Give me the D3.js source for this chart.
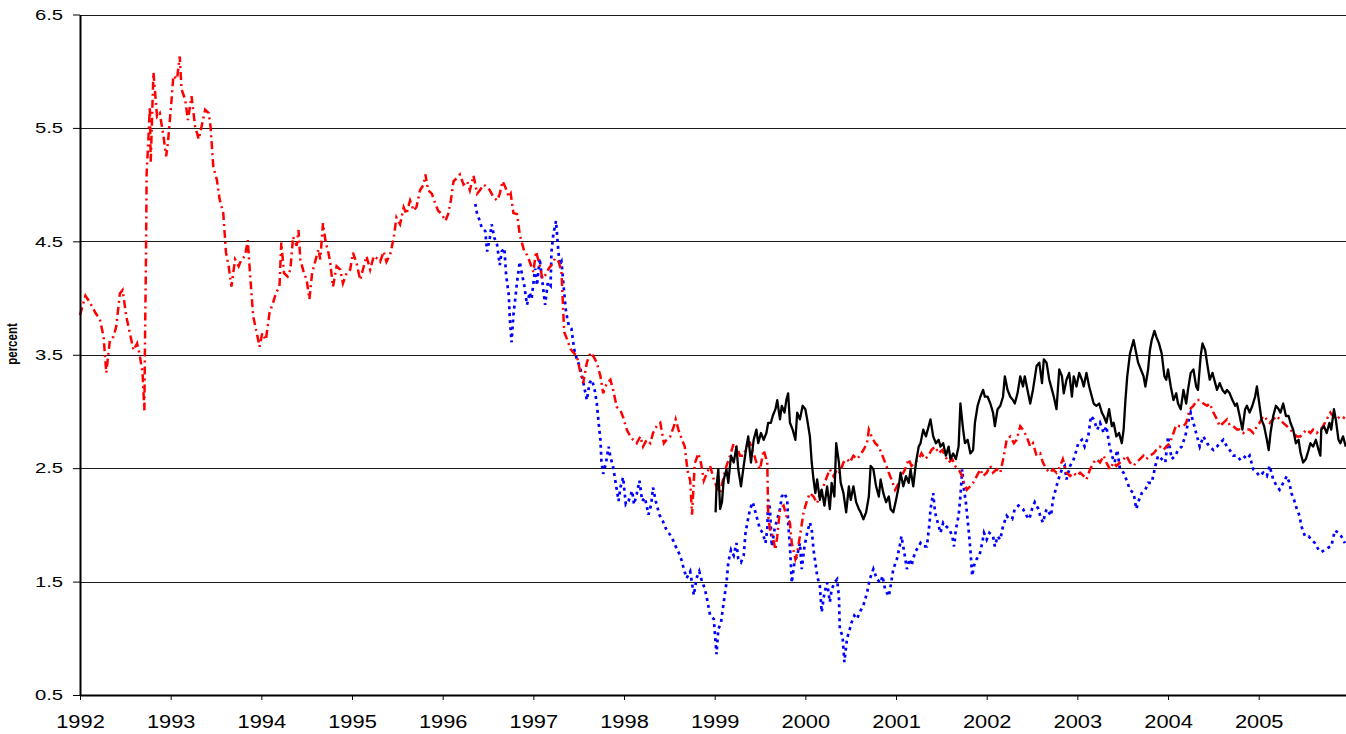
<!DOCTYPE html>
<html>
<head>
<meta charset="utf-8">
<script src="https://cdn.jsdelivr.net/npm/d3@7"></script>
<style>
  html, body { margin: 0; padding: 0; background: #fff; }
  svg { display: block; }
  text { font-family: "Liberation Sans", Arial, sans-serif; }
</style>
</head>
<body>
<div class="container"></div>
<script>
// [decimal year, percent]
const redSeries = [
  [1992.00,3.85],[1992.06,4.02],[1992.11,3.96],[1992.17,3.87],[1992.22,3.81],[1992.26,3.66],[1992.29,3.34],
  [1992.33,3.63],[1992.37,3.66],[1992.40,3.75],[1992.44,4.04],[1992.47,4.07],[1992.51,3.84],[1992.55,3.69],
  [1992.59,3.54],[1992.63,3.60],[1992.66,3.49],[1992.69,3.34],[1992.71,3.01],[1992.717,3.63],[1992.728,4.37],
  [1992.735,5.10],[1992.754,5.40],[1992.77,5.69],[1992.78,5.20],[1992.81,5.99],[1992.85,5.60],[1992.88,5.63],
  [1992.92,5.43],[1992.95,5.25],[1992.97,5.37],[1993.01,5.75],[1993.03,5.96],[1993.07,5.93],[1993.10,6.13],
  [1993.12,5.84],[1993.16,5.75],[1993.19,5.57],[1993.23,5.78],[1993.27,5.51],[1993.31,5.40],[1993.34,5.51],
  [1993.38,5.66],[1993.42,5.63],[1993.44,5.51],[1993.47,5.16],[1993.51,5.04],[1993.54,4.87],[1993.58,4.75],
  [1993.61,4.40],[1993.64,4.28],[1993.67,4.10],[1993.71,4.34],[1993.75,4.28],[1993.78,4.34],[1993.82,4.37],
  [1993.85,4.51],[1993.88,4.16],[1993.91,3.84],[1993.95,3.69],[1993.98,3.57],[1994.01,3.69],[1994.05,3.63],
  [1994.09,3.87],[1994.13,3.96],[1994.16,4.04],[1994.20,4.10],[1994.22,4.49],[1994.25,4.22],[1994.29,4.19],
  [1994.32,4.25],[1994.35,4.54],[1994.39,4.46],[1994.41,4.60],[1994.43,4.34],[1994.47,4.22],[1994.50,4.16],
  [1994.53,3.99],[1994.56,4.22],[1994.59,4.31],[1994.63,4.43],[1994.65,4.34],[1994.68,4.66],[1994.71,4.49],
  [1994.74,4.40],[1994.76,4.31],[1994.79,4.10],[1994.83,4.28],[1994.87,4.25],[1994.90,4.13],[1994.94,4.22],
  [1994.98,4.25],[1995.01,4.40],[1995.05,4.31],[1995.09,4.16],[1995.13,4.28],[1995.16,4.37],[1995.20,4.25],
  [1995.24,4.37],[1995.29,4.34],[1995.31,4.32],[1995.35,4.41],[1995.38,4.32],[1995.42,4.38],[1995.46,4.53],
  [1995.49,4.71],[1995.53,4.65],[1995.57,4.80],[1995.60,4.74],[1995.64,4.86],[1995.68,4.77],[1995.71,4.80],
  [1995.75,4.95],[1995.79,5.00],[1995.81,5.09],[1995.84,4.95],[1995.88,4.92],[1995.92,4.83],[1995.95,4.77],
  [1995.99,4.74],[1996.03,4.68],[1996.06,4.74],[1996.09,4.86],[1996.12,5.03],[1996.16,5.06],[1996.19,5.09],
  [1996.23,5.00],[1996.27,5.03],[1996.30,4.95],[1996.34,5.08],[1996.38,4.92],[1996.41,4.95],[1996.45,5.00],
  [1996.49,4.98],[1996.52,4.95],[1996.56,4.89],[1996.60,4.86],[1996.63,4.92],[1996.66,5.03],[1996.69,4.98],
  [1996.73,4.89],[1996.75,4.92],[1996.78,4.75],[1996.82,4.74],[1996.85,4.56],[1996.87,4.50],[1996.90,4.41],
  [1996.93,4.38],[1996.96,4.32],[1997.00,4.23],[1997.03,4.41],[1997.07,4.29],[1997.10,4.17],[1997.13,4.20],
  [1997.17,4.26],[1997.20,4.29],[1997.24,4.35],[1997.28,4.32],[1997.31,4.23],[1997.34,3.70],[1997.37,3.64],
  [1997.41,3.55],[1997.44,3.52],[1997.48,3.49],[1997.52,3.34],[1997.55,3.25],[1997.59,3.43],[1997.63,3.52],
  [1997.66,3.49],[1997.70,3.43],[1997.74,3.31],[1997.77,3.16],[1997.81,3.25],[1997.85,3.28],[1997.88,3.19],
  [1997.92,3.04],[1997.96,3.01],[1997.99,2.95],[1998.03,2.84],[1998.07,2.78],[1998.10,2.75],[1998.14,2.72],
  [1998.18,2.78],[1998.21,2.69],[1998.25,2.75],[1998.29,2.72],[1998.32,2.81],[1998.36,2.87],[1998.40,2.90],
  [1998.44,2.72],[1998.47,2.75],[1998.51,2.78],[1998.55,2.87],[1998.57,2.93],[1998.60,2.84],[1998.64,2.75],
  [1998.67,2.69],[1998.70,2.48],[1998.73,2.39],[1998.75,2.09],[1998.78,2.54],[1998.82,2.63],[1998.85,2.54],
  [1998.88,2.39],[1998.91,2.45],[1998.95,2.52],[1998.99,2.40],[1999.02,2.34],[1999.06,2.28],[1999.10,2.43],
  [1999.13,2.52],[1999.17,2.61],[1999.21,2.72],[1999.24,2.69],[1999.28,2.61],[1999.32,2.61],[1999.35,2.69],
  [1999.39,2.72],[1999.43,2.63],[1999.46,2.55],[1999.50,2.49],[1999.54,2.66],[1999.58,2.55],[1999.59,2.08],
  [1999.61,1.96],[1999.64,1.90],[1999.67,1.78],[1999.69,1.90],[1999.72,2.14],[1999.76,2.17],[1999.79,2.08],
  [1999.83,2.02],[1999.85,1.84],[1999.89,1.70],[1999.91,1.75],[1999.94,1.90],[1999.98,2.11],[2000.02,2.22],
  [2000.05,2.28],[2000.09,2.25],[2000.13,2.19],[2000.16,2.28],[2000.20,2.34],[2000.24,2.43],[2000.27,2.49],
  [2000.31,2.43],[2000.35,2.49],[2000.38,2.46],[2000.42,2.55],[2000.46,2.58],[2000.49,2.55],[2000.53,2.61],
  [2000.57,2.58],[2000.60,2.61],[2000.64,2.66],[2000.68,2.72],[2000.70,2.84],[2000.73,2.78],[2000.77,2.72],
  [2000.81,2.69],[2000.84,2.63],[2000.88,2.55],[2000.92,2.46],[2000.95,2.40],[2000.99,2.31],[2001.03,2.37],
  [2001.06,2.43],[2001.10,2.49],[2001.14,2.58],[2001.17,2.52],[2001.21,2.55],[2001.25,2.58],[2001.28,2.63],
  [2001.32,2.58],[2001.36,2.61],[2001.39,2.66],[2001.43,2.69],[2001.47,2.63],[2001.51,2.66],[2001.54,2.61],
  [2001.58,2.55],[2001.62,2.58],[2001.65,2.52],[2001.69,2.49],[2001.73,2.43],[2001.75,2.37],[2001.78,2.31],
  [2001.82,2.34],[2001.85,2.37],[2001.89,2.43],[2001.93,2.49],[2001.96,2.43],[2002.00,2.46],[2002.04,2.52],
  [2002.07,2.46],[2002.11,2.49],[2002.15,2.46],[2002.19,2.61],[2002.22,2.75],[2002.26,2.78],[2002.30,2.72],
  [2002.33,2.75],[2002.37,2.87],[2002.40,2.84],[2002.44,2.78],[2002.48,2.69],[2002.51,2.72],[2002.55,2.61],
  [2002.59,2.63],[2002.62,2.55],[2002.66,2.49],[2002.70,2.46],[2002.73,2.49],[2002.77,2.46],[2002.81,2.52],
  [2002.84,2.58],[2002.88,2.46],[2002.92,2.43],[2002.96,2.46],[2002.99,2.43],[2003.03,2.46],[2003.07,2.43],
  [2003.10,2.40],[2003.14,2.49],[2003.18,2.55],[2003.21,2.58],[2003.25,2.55],[2003.29,2.61],[2003.32,2.55],
  [2003.36,2.49],[2003.40,2.55],[2003.43,2.52],[2003.47,2.55],[2003.51,2.58],[2003.54,2.61],[2003.58,2.55],
  [2003.62,2.52],[2003.65,2.55],[2003.69,2.58],[2003.73,2.61],[2003.76,2.58],[2003.80,2.61],[2003.84,2.63],
  [2003.87,2.66],[2003.91,2.69],[2003.95,2.66],[2003.98,2.69],[2004.02,2.72],[2004.06,2.81],[2004.09,2.88],
  [2004.13,2.87],[2004.17,2.87],[2004.20,2.90],[2004.24,3.02],[2004.28,3.05],[2004.32,3.10],[2004.35,3.10],
  [2004.39,3.07],[2004.43,3.05],[2004.46,3.07],[2004.50,2.99],[2004.54,2.93],[2004.57,2.87],[2004.61,2.90],
  [2004.65,2.93],[2004.68,2.88],[2004.72,2.87],[2004.76,2.84],[2004.79,2.84],[2004.83,2.81],[2004.87,2.84],
  [2004.90,2.84],[2004.94,2.81],[2004.98,2.87],[2005.01,2.90],[2005.05,2.96],[2005.09,2.93],[2005.12,2.90],
  [2005.16,2.93],[2005.20,2.96],[2005.23,2.93],[2005.27,2.90],[2005.31,2.87],[2005.35,2.84],[2005.38,2.81],
  [2005.42,2.78],[2005.46,2.78],[2005.49,2.81],[2005.53,2.84],[2005.57,2.81],[2005.60,2.84],[2005.64,2.81],
  [2005.68,2.84],[2005.71,2.87],[2005.75,2.93],[2005.79,2.99],[2005.82,2.96],[2005.86,2.93],[2005.90,2.96],
  [2005.95,2.94]
];

const blueSeries = [
  [1996.36,4.83],[1996.38,4.74],[1996.41,4.68],[1996.43,4.62],[1996.47,4.59],[1996.49,4.41],[1996.52,4.53],
  [1996.54,4.65],[1996.57,4.53],[1996.60,4.47],[1996.63,4.29],[1996.65,4.41],[1996.68,4.44],[1996.70,4.20],
  [1996.73,4.02],[1996.74,3.82],[1996.76,3.61],[1996.78,3.85],[1996.80,3.99],[1996.82,4.14],[1996.85,4.32],
  [1996.87,4.23],[1996.90,4.11],[1996.93,3.94],[1996.96,4.05],[1996.98,3.99],[1997.02,4.26],[1997.04,4.11],
  [1997.07,4.35],[1997.10,4.14],[1997.13,3.94],[1997.16,4.14],[1997.19,4.11],[1997.20,4.41],[1997.22,4.56],
  [1997.25,4.68],[1997.27,4.47],[1997.29,4.29],[1997.31,4.32],[1997.34,4.05],[1997.36,3.88],[1997.39,3.76],
  [1997.42,3.73],[1997.45,3.55],[1997.48,3.46],[1997.51,3.40],[1997.53,3.34],[1997.56,3.22],[1997.59,3.10],
  [1997.62,3.25],[1997.64,3.28],[1997.67,3.22],[1997.70,3.07],[1997.72,2.90],[1997.74,2.75],[1997.75,2.57],
  [1997.77,2.45],[1997.80,2.54],[1997.83,2.69],[1997.85,2.60],[1997.88,2.51],[1997.91,2.36],[1997.94,2.21],
  [1997.96,2.33],[1997.99,2.42],[1998.02,2.18],[1998.05,2.21],[1998.09,2.30],[1998.11,2.18],[1998.14,2.27],
  [1998.17,2.39],[1998.20,2.21],[1998.23,2.24],[1998.27,2.09],[1998.30,2.18],[1998.32,2.33],[1998.35,2.21],
  [1998.39,2.09],[1998.43,2.03],[1998.46,1.97],[1998.51,1.91],[1998.55,1.85],[1998.58,1.79],[1998.62,1.73],
  [1998.66,1.61],[1998.69,1.53],[1998.73,1.59],[1998.77,1.38],[1998.80,1.53],[1998.83,1.59],[1998.86,1.50],
  [1998.89,1.44],[1998.91,1.37],[1998.95,1.20],[1998.99,1.17],[1999.02,0.86],[1999.04,1.08],[1999.07,1.14],
  [1999.10,1.32],[1999.13,1.49],[1999.15,1.67],[1999.18,1.78],[1999.21,1.73],[1999.24,1.84],[1999.26,1.70],
  [1999.29,1.67],[1999.32,1.73],[1999.34,1.93],[1999.36,2.02],[1999.39,2.14],[1999.42,2.20],[1999.45,2.11],
  [1999.47,2.05],[1999.50,1.96],[1999.53,1.93],[1999.56,1.84],[1999.58,1.96],[1999.59,2.22],[1999.61,2.14],
  [1999.63,1.81],[1999.66,1.96],[1999.69,2.05],[1999.72,2.14],[1999.74,2.25],[1999.77,2.28],[1999.80,2.22],
  [1999.81,2.02],[1999.83,1.81],[1999.85,1.49],[1999.88,1.67],[1999.91,1.73],[1999.94,1.84],[1999.96,1.61],
  [1999.99,1.81],[2000.02,1.93],[2000.05,2.02],[2000.07,1.96],[2000.09,1.78],[2000.11,1.67],[2000.13,1.55],
  [2000.16,1.46],[2000.18,1.23],[2000.21,1.40],[2000.24,1.49],[2000.27,1.32],[2000.29,1.43],[2000.32,1.49],
  [2000.35,1.52],[2000.37,1.37],[2000.38,1.08],[2000.41,1.02],[2000.43,0.79],[2000.46,1.00],[2000.49,1.08],
  [2000.51,1.14],[2000.54,1.20],[2000.57,1.17],[2000.60,1.23],[2000.64,1.29],[2000.68,1.40],[2000.71,1.52],
  [2000.75,1.61],[2000.79,1.52],[2000.83,1.49],[2000.85,1.55],[2000.88,1.43],[2000.92,1.37],[2000.94,1.46],
  [2000.97,1.61],[2001.01,1.70],[2001.04,1.81],[2001.06,1.90],[2001.09,1.76],[2001.12,1.61],[2001.15,1.70],
  [2001.17,1.64],[2001.21,1.76],[2001.25,1.81],[2001.27,1.84],[2001.30,1.81],[2001.34,1.81],[2001.37,2.02],
  [2001.38,2.14],[2001.41,2.28],[2001.43,2.11],[2001.46,2.02],[2001.49,1.93],[2001.52,2.02],[2001.55,1.99],
  [2001.59,1.96],[2001.62,1.90],[2001.64,1.81],[2001.66,1.96],[2001.69,2.08],[2001.71,2.25],[2001.73,2.49],
  [2001.75,2.31],[2001.77,2.20],[2001.80,1.96],[2001.82,1.78],[2001.84,1.55],[2001.86,1.64],[2001.89,1.70],
  [2001.92,1.73],[2001.95,1.84],[2001.97,1.93],[2002.00,1.87],[2002.03,1.93],[2002.07,1.90],[2002.09,1.81],
  [2002.12,1.90],[2002.15,1.87],[2002.18,1.99],[2002.22,2.08],[2002.24,2.06],[2002.28,2.05],[2002.31,2.14],
  [2002.35,2.17],[2002.40,2.14],[2002.44,2.08],[2002.47,2.05],[2002.50,2.14],[2002.53,2.20],[2002.57,2.14],
  [2002.59,2.08],[2002.62,2.02],[2002.66,2.14],[2002.71,2.08],[2002.73,2.22],[2002.76,2.31],[2002.79,2.40],
  [2002.83,2.49],[2002.86,2.52],[2002.88,2.40],[2002.92,2.52],[2002.96,2.58],[2002.99,2.66],[2003.01,2.72],
  [2003.05,2.75],[2003.08,2.69],[2003.12,2.78],[2003.15,2.96],[2003.18,2.93],[2003.22,2.84],[2003.25,2.90],
  [2003.29,2.81],[2003.32,2.87],[2003.35,2.72],[2003.38,2.61],[2003.41,2.55],[2003.44,2.66],[2003.47,2.49],
  [2003.51,2.46],[2003.54,2.40],[2003.58,2.31],[2003.62,2.28],[2003.65,2.14],[2003.68,2.22],[2003.71,2.28],
  [2003.75,2.31],[2003.78,2.37],[2003.82,2.37],[2003.86,2.52],[2003.89,2.61],[2003.93,2.58],[2003.97,2.55],
  [2004.00,2.78],[2004.04,2.58],[2004.08,2.61],[2004.11,2.66],[2004.15,2.69],[2004.19,2.78],[2004.22,2.90],
  [2004.25,2.99],[2004.28,2.90],[2004.32,2.78],[2004.35,2.69],[2004.39,2.78],[2004.43,2.72],[2004.46,2.69],
  [2004.50,2.66],[2004.54,2.69],[2004.57,2.72],[2004.61,2.75],[2004.65,2.69],[2004.68,2.66],[2004.72,2.61],
  [2004.76,2.61],[2004.79,2.58],[2004.83,2.61],[2004.87,2.58],[2004.90,2.61],[2004.94,2.49],[2004.98,2.46],
  [2005.01,2.43],[2005.05,2.46],[2005.09,2.43],[2005.12,2.52],[2005.16,2.40],[2005.20,2.34],[2005.23,2.31],
  [2005.27,2.37],[2005.31,2.43],[2005.34,2.37],[2005.36,2.28],[2005.39,2.22],[2005.42,2.14],[2005.45,2.08],
  [2005.47,1.99],[2005.51,1.90],[2005.55,1.90],[2005.58,1.87],[2005.62,1.84],[2005.66,1.78],[2005.69,1.76],
  [2005.73,1.78],[2005.77,1.80],[2005.80,1.81],[2005.84,1.95],[2005.88,1.93],[2005.91,1.90],[2005.95,1.84]
];

const blackSeries = [
  [1999.01,2.11],[1999.02,2.34],[1999.04,2.49],[1999.06,2.14],[1999.08,2.20],[1999.10,2.40],[1999.13,2.49],
  [1999.15,2.37],[1999.18,2.61],[1999.21,2.55],[1999.24,2.69],[1999.26,2.49],[1999.29,2.34],[1999.32,2.52],
  [1999.35,2.69],[1999.37,2.78],[1999.40,2.55],[1999.43,2.75],[1999.46,2.84],[1999.48,2.72],[1999.51,2.81],
  [1999.54,2.75],[1999.57,2.81],[1999.59,2.90],[1999.62,2.90],[1999.64,2.96],[1999.67,3.02],[1999.69,3.10],
  [1999.72,2.93],[1999.74,3.05],[1999.77,2.99],[1999.79,3.10],[1999.81,3.16],[1999.83,2.90],[1999.86,2.84],
  [1999.89,2.75],[1999.91,2.99],[1999.94,2.93],[1999.97,3.05],[2000.00,3.02],[2000.02,2.93],[2000.05,2.78],
  [2000.07,2.55],[2000.09,2.40],[2000.11,2.28],[2000.13,2.40],[2000.16,2.22],[2000.18,2.31],[2000.21,2.17],
  [2000.24,2.34],[2000.27,2.14],[2000.29,2.37],[2000.32,2.25],[2000.34,2.72],[2000.37,2.55],[2000.39,2.37],
  [2000.42,2.28],[2000.45,2.11],[2000.48,2.34],[2000.50,2.22],[2000.53,2.34],[2000.56,2.20],[2000.59,2.14],
  [2000.61,2.11],[2000.64,2.05],[2000.67,2.11],[2000.70,2.25],[2000.72,2.52],[2000.75,2.49],[2000.78,2.34],
  [2000.81,2.25],[2000.83,2.40],[2000.86,2.28],[2000.89,2.20],[2000.92,2.25],[2000.94,2.14],[2000.97,2.11],
  [2001.00,2.22],[2001.03,2.34],[2001.05,2.46],[2001.08,2.34],[2001.11,2.43],[2001.14,2.37],[2001.16,2.49],
  [2001.19,2.34],[2001.22,2.55],[2001.25,2.69],[2001.27,2.72],[2001.30,2.84],[2001.33,2.78],[2001.36,2.87],
  [2001.38,2.93],[2001.41,2.78],[2001.44,2.72],[2001.47,2.75],[2001.49,2.69],[2001.52,2.72],[2001.55,2.61],
  [2001.58,2.69],[2001.60,2.58],[2001.63,2.63],[2001.66,2.58],[2001.69,2.69],[2001.71,3.07],[2001.74,2.84],
  [2001.76,2.72],[2001.79,2.75],[2001.82,2.63],[2001.85,2.66],[2001.87,2.90],[2001.90,3.05],[2001.93,3.13],
  [2001.96,3.19],[2001.98,3.13],[2002.01,3.13],[2002.04,3.07],[2002.07,2.99],[2002.09,2.87],[2002.12,3.02],
  [2002.15,3.05],[2002.18,3.13],[2002.20,3.31],[2002.23,3.19],[2002.26,3.13],[2002.29,3.10],[2002.31,3.07],
  [2002.34,3.16],[2002.37,3.31],[2002.40,3.22],[2002.42,3.31],[2002.45,3.19],[2002.48,3.07],[2002.51,3.19],
  [2002.55,3.40],[2002.58,3.43],[2002.61,3.25],[2002.63,3.46],[2002.66,3.43],[2002.69,3.28],[2002.72,3.19],
  [2002.74,3.13],[2002.77,3.02],[2002.80,3.37],[2002.83,3.31],[2002.85,3.16],[2002.88,3.28],[2002.91,3.34],
  [2002.94,3.13],[2002.96,3.31],[2002.99,3.22],[2003.02,3.34],[2003.05,3.28],[2003.07,3.22],[2003.10,3.34],
  [2003.13,3.22],[2003.16,3.13],[2003.18,3.07],[2003.21,3.05],[2003.24,3.07],[2003.27,2.99],[2003.29,2.96],
  [2003.32,2.90],[2003.35,3.02],[2003.38,2.87],[2003.40,2.90],[2003.43,2.78],[2003.46,2.81],[2003.49,2.72],
  [2003.51,2.84],[2003.53,3.10],[2003.55,3.31],[2003.58,3.51],[2003.60,3.57],[2003.62,3.63],[2003.65,3.51],
  [2003.67,3.43],[2003.70,3.37],[2003.73,3.31],[2003.75,3.22],[2003.78,3.37],[2003.80,3.54],[2003.82,3.63],
  [2003.85,3.71],[2003.87,3.66],[2003.90,3.60],[2003.93,3.51],[2003.96,3.31],[2003.98,3.28],[2004.00,3.37],
  [2004.03,3.22],[2004.06,3.10],[2004.09,3.16],[2004.11,3.07],[2004.14,3.02],[2004.17,3.19],[2004.20,3.07],
  [2004.22,3.19],[2004.25,3.34],[2004.28,3.37],[2004.31,3.22],[2004.33,3.19],[2004.36,3.49],[2004.38,3.60],
  [2004.41,3.54],[2004.43,3.43],[2004.46,3.28],[2004.49,3.34],[2004.52,3.25],[2004.54,3.19],[2004.57,3.25],
  [2004.60,3.19],[2004.63,3.16],[2004.65,3.19],[2004.68,3.16],[2004.71,3.10],[2004.74,3.05],[2004.76,3.07],
  [2004.79,2.96],[2004.82,2.84],[2004.85,3.02],[2004.87,3.05],[2004.90,2.99],[2004.93,3.05],[2004.96,3.13],
  [2004.98,3.22],[2005.01,3.05],[2005.03,2.93],[2005.06,2.87],[2005.09,2.75],[2005.11,2.66],[2005.13,2.81],
  [2005.16,2.96],[2005.19,3.05],[2005.22,3.02],[2005.24,2.99],[2005.27,3.07],[2005.30,2.96],[2005.33,2.96],
  [2005.35,2.90],[2005.38,2.84],[2005.41,2.72],[2005.44,2.75],[2005.46,2.64],[2005.49,2.55],[2005.52,2.58],
  [2005.55,2.66],[2005.57,2.72],[2005.60,2.69],[2005.63,2.75],[2005.66,2.66],[2005.68,2.61],[2005.69,2.84],
  [2005.72,2.87],[2005.75,2.81],[2005.78,2.90],[2005.80,2.84],[2005.83,3.02],[2005.85,2.93],[2005.88,2.75],
  [2005.90,2.72],[2005.93,2.78],[2005.96,2.69]
];

const yearTicks = [1992, 1993, 1994, 1995, 1996, 1997, 1998, 1999, 2000, 2001, 2002, 2003, 2004, 2005];
const yTicks = [0.5, 1.5, 2.5, 3.5, 4.5, 5.5, 6.5];
const gridValues = [1.5, 2.5, 3.5, 4.5, 5.5, 6.5];

const width = 1346;
const height = 734;
const margin = { top: 14.5, right: 0, bottom: 39, left: 80 };

const svg = d3.select(".container").append("svg")
  .attr("width", width)
  .attr("height", height);

const x = d3.scaleLinear()
  .domain([1992, 2006])
  .range([margin.left, margin.left + 14 * 90.67]);

const y = d3.scaleLinear()
  .domain([0.5, 6.5])
  .range([height - margin.bottom, margin.top]);

// gridlines
svg.append("g")
  .selectAll("line")
  .data(gridValues)
  .enter()
  .append("line")
  .attr("x1", margin.left)
  .attr("x2", width)
  .attr("y1", d => Math.round(y(d)) + 0.5)
  .attr("y2", d => Math.round(y(d)) + 0.5)
  .attr("stroke", "#1a1a1a")
  .attr("stroke-width", 1);

const line = d3.line()
  .x(d => x(d[0]))
  .y(d => y(d[1]));

svg.append("path")
  .datum(blueSeries)
  .attr("fill", "none")
  .attr("stroke", "#0000ff")
  .attr("stroke-width", 2.7)
  .attr("stroke-dasharray", "3,4")
  .attr("d", line);

svg.append("path")
  .datum(redSeries)
  .attr("fill", "none")
  .attr("stroke", "#ff0000")
  .attr("stroke-width", 2.5)
  .attr("stroke-dasharray", "8,4,2,4")
  .attr("d", line);

svg.append("path")
  .datum(blackSeries)
  .attr("fill", "none")
  .attr("stroke", "#000")
  .attr("stroke-width", 2.3)
  .attr("stroke-linejoin", "round")
  .attr("d", line);

// y axis
const yAxis = svg.append("g")
  .attr("transform", `translate(${margin.left},0)`)
  .call(d3.axisLeft(y).tickValues(yTicks).tickFormat(d3.format(".1f")).tickSize(7).tickSizeOuter(0));

yAxis.select(".domain").attr("stroke", "#000").attr("stroke-width", 2);
yAxis.selectAll(".tick line").attr("stroke", "#000");
yAxis.selectAll(".tick text")
  .attr("font-family", "'Liberation Sans', Arial, sans-serif")
  .attr("font-size", 15)
  .attr("fill", "#000")
  .attr("x", -12.6)
  .attr("transform", "scale(1.35,1)");

// x axis
const xAxis = svg.append("g")
  .attr("transform", `translate(0,${height - margin.bottom})`)
  .call(d3.axisBottom(x).tickValues(yearTicks).tickFormat(d3.format("d")).tickSize(5).tickSizeOuter(0));

xAxis.select(".domain").attr("stroke", "#000").attr("stroke-width", 2);
xAxis.selectAll(".tick line").attr("stroke", "#000");
xAxis.selectAll(".tick text")
  .attr("font-family", "'Liberation Sans', Arial, sans-serif")
  .attr("font-size", 19)
  .attr("fill", "#000")
  .attr("y", 20)
  .attr("transform", "scale(1.15,1)");

// y label
svg.append("text")
  .attr("transform", "translate(17,344) scale(1.35,1) rotate(-90)")
  .attr("text-anchor", "middle")
  .attr("font-size", 11.5)
  .attr("font-weight", "bold")
  .attr("fill", "#000")
  .text("percent");
</script>
</body>
</html>
